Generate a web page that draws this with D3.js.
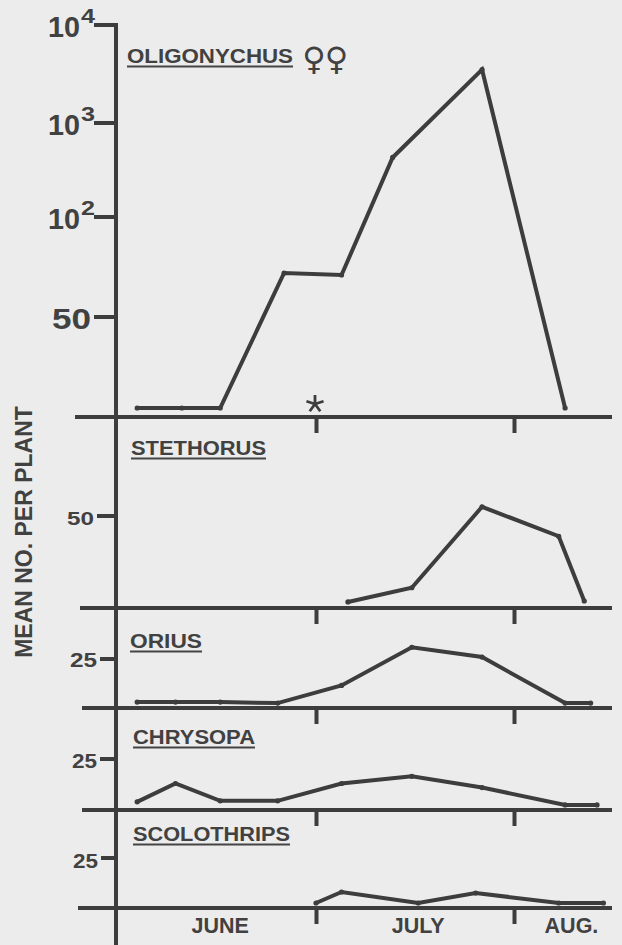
<!DOCTYPE html>
<html>
<head>
<meta charset="utf-8">
<script src="https://cdn.jsdelivr.net/npm/d3@7"></script>
<style>
  body { margin: 0; background: #ececec; }
  svg { display: block; }
  text { font-family: "Liberation Sans", Arial, sans-serif; font-weight: bold; fill: #414141; }
</style>
</head>
<body>
<svg id="chart"></svg>
<script>
const width = 622;
const height = 945;
const ink = "#3d3d3d";
const parseDay = d3.timeParse("%m-%d");

// sampling dates and mean numbers per plant
const oligDates = ["06-03", "06-10", "06-16", "06-26", "07-05", "07-13", "07-27", "08-09"];
const oligValues = [4.5, 4.5, 4.5, 72, 71, 430, 3500, 4.5];
const stetDates = ["07-06", "07-16", "07-27", "08-08", "08-12"];
const stetValues = [3.3, 11, 55, 39, 3.8];
const oriusDates = ["06-03", "06-09", "06-16", "06-25", "07-05", "07-16", "07-27", "08-09", "08-13"];
const oriusValues = [3, 3, 3, 2.5, 11.5, 31, 26, 2.5, 2.5];
const chrysDates = ["06-03", "06-09", "06-16", "06-25", "07-05", "07-16", "07-27", "08-09", "08-14"];
const chrysValues = [4, 13, 4.5, 4.5, 13, 16.5, 11, 2.5, 2.5];
const scoloDates = ["07-01", "07-05", "07-17", "07-26", "08-08", "08-15"];
const scoloValues = [2.5, 8, 2.5, 7.5, 2.5, 2.5];

// axis ticks and labels
const oligTicks = [50, 100, 1000, 10000];
const oligTickLabels = ["50", "10|2", "10|3", "10|4"];
const stetTicks = [50];
const smallTicks = [25];
const monthTicks = ["07-01", "08-01"];
const monthLabels = ["JUNE", "JULY", "AUG."];
const monthCentres = ["06-16", "07-17", "08-10"];
const asteriskDate = "07-01";

const svg = d3.select("#chart")
  .attr("width", width)
  .attr("height", height);

const x = d3.scaleTime()
  .domain([parseDay("07-01"), parseDay("08-01")])
  .range([316, 514]);

// Oligonychus: linear up to 100, log above
const oligLin = d3.scaleLinear().domain([0, 100]).range([417, 217]);
const oligLog = d3.scaleLog().domain([100, 1000, 10000]).range([217, 123, 25]);
const yOlig = v => v <= 100 ? oligLin(v) : oligLog(v);

const panels = [
  { name: "OLIGONYCHUS", dates: oligDates, values: oligValues, y: yOlig, base: 417,
    ticks: oligTicks, tickLabels: oligTickLabels, tickLen: 22, tickFont: 30, tickDy: 12, tickW: 39,
    lx: 127, ly: 63, lw: 166, left: 75 },
  { name: "STETHORUS", dates: stetDates, values: stetValues,
    y: d3.scaleLinear().domain([0, 50]).range([608, 516]), base: 608,
    ticks: stetTicks, tickLabels: ["50"], tickLen: 19, tickFont: 19, tickDy: 9, tickW: 27,
    lx: 131, ly: 455, lw: 135, left: 80 },
  { name: "ORIUS", dates: oriusDates, values: oriusValues,
    y: d3.scaleLinear().domain([0, 25]).range([708, 659]), base: 708,
    ticks: smallTicks, tickLabels: ["25"], tickLen: 16, tickFont: 21, tickDy: 8, tickW: 27,
    lx: 130, ly: 648, lw: 72, left: 82 },
  { name: "CHRYSOPA", dates: chrysDates, values: chrysValues,
    y: d3.scaleLinear().domain([0, 25]).range([810, 759]), base: 810,
    ticks: smallTicks, tickLabels: ["25"], tickLen: 16, tickFont: 21, tickDy: 9, tickW: 25,
    lx: 133, ly: 744, lw: 122, left: 82 },
  { name: "SCOLOTHRIPS", dates: scoloDates, values: scoloValues,
    y: d3.scaleLinear().domain([0, 25]).range([908, 858]), base: 908,
    ticks: smallTicks, tickLabels: ["25"], tickLen: 15, tickFont: 20, tickDy: 10, tickW: 25,
    lx: 133, ly: 841, lw: 157, left: 78 }
];

const axisX = 116;

// main vertical axis
svg.append("line")
  .attr("x1", axisX).attr("x2", axisX)
  .attr("y1", 23).attr("y2", height)
  .attr("stroke", ink).attr("stroke-width", 4);

panels.forEach(p => {
  const g = svg.append("g");

  // baseline
  g.append("line")
    .attr("x1", p.left).attr("x2", 612)
    .attr("y1", p.base).attr("y2", p.base)
    .attr("stroke", ink).attr("stroke-width", 4);

  // month ticks below baseline
  const xAxis = g.append("g")
    .attr("transform", `translate(0,${p.base})`)
    .call(d3.axisBottom(x).tickValues(monthTicks.map(parseDay)).tickSize(16).tickFormat(""));
  xAxis.select(".domain").remove();
  xAxis.selectAll(".tick line").attr("stroke", ink).attr("stroke-width", 4);

  // left ticks
  p.ticks.forEach((v, i) => {
    const ty = p.y(v);
    g.append("line")
      .attr("x1", axisX - p.tickLen).attr("x2", axisX)
      .attr("y1", ty).attr("y2", ty)
      .attr("stroke", ink).attr("stroke-width", 4);
    const [base, sup] = p.tickLabels[i].split("|");
    if (sup) {
      const t = g.append("text").attr("x", 48).attr("y", ty + p.tickDy);
      t.append("tspan").attr("font-size", p.tickFont)
        .attr("textLength", 32).attr("lengthAdjust", "spacingAndGlyphs").text(base);
      t.append("tspan").attr("font-size", 20).attr("dx", 1).attr("dy", -14)
        .attr("textLength", 14).attr("lengthAdjust", "spacingAndGlyphs").text(sup);
    } else {
      g.append("text")
        .attr("x", axisX - p.tickLen - 3).attr("y", ty + p.tickDy)
        .attr("text-anchor", "end")
        .attr("font-size", p.tickFont)
        .attr("textLength", p.tickW)
        .attr("lengthAdjust", "spacingAndGlyphs")
        .text(base);
    }
  });

  // panel label, underlined
  g.append("text")
    .attr("x", p.lx).attr("y", p.ly)
    .attr("font-size", 19.5)
    .attr("textLength", p.lw)
    .attr("lengthAdjust", "spacingAndGlyphs")
    .text(p.name);
  g.append("line")
    .attr("x1", p.lx).attr("x2", p.lx + p.lw)
    .attr("y1", p.ly + 3.5).attr("y2", p.ly + 3.5)
    .attr("stroke", "#444").attr("stroke-width", 2);

  // series
  const pts = p.dates.map((d, i) => ({ date: parseDay(d), value: p.values[i] }));
  const line = d3.line().x(d => x(d.date)).y(d => p.y(d.value));
  g.append("path")
    .datum(pts)
    .attr("d", line)
    .attr("fill", "none")
    .attr("stroke", ink)
    .attr("stroke-width", 4)
    .attr("stroke-linejoin", "miter");
  g.selectAll("circle")
    .data(pts)
    .join("circle")
    .attr("cx", d => x(d.date))
    .attr("cy", d => p.y(d.value))
    .attr("r", 2.6)
    .attr("fill", ink);
});

// female symbols after the first label
[314, 336.5].forEach(cx => {
  svg.append("text")
    .attr("x", cx).attr("y", 70)
    .attr("text-anchor", "middle")
    .style("font-family", "'DejaVu Sans', sans-serif")
    .attr("font-size", 32)
    .text("♀");
});

// asterisk on the first baseline
const ax = x(parseDay(asteriskDate)) - 1;
const ay = 404;
d3.range(5).forEach(k => {
  const a = (-90 + k * 72) * Math.PI / 180;
  svg.append("line")
    .attr("x1", ax).attr("y1", ay)
    .attr("x2", ax + 9 * Math.cos(a)).attr("y2", ay + 9 * Math.sin(a))
    .attr("stroke", ink).attr("stroke-width", 2.8);
});

// month names
svg.selectAll(".month")
  .data(monthLabels)
  .join("text")
  .attr("class", "month")
  .attr("x", (d, i) => x(parseDay(monthCentres[i])))
  .attr("y", 933)
  .attr("text-anchor", "middle")
  .attr("font-size", 21.5)
  .text(d => d);

// y title
svg.append("text")
  .attr("transform", "translate(32,532) rotate(-90)")
  .attr("text-anchor", "middle")
  .attr("font-size", 23)
  .text("MEAN NO. PER PLANT");
</script>
</body>
</html>
